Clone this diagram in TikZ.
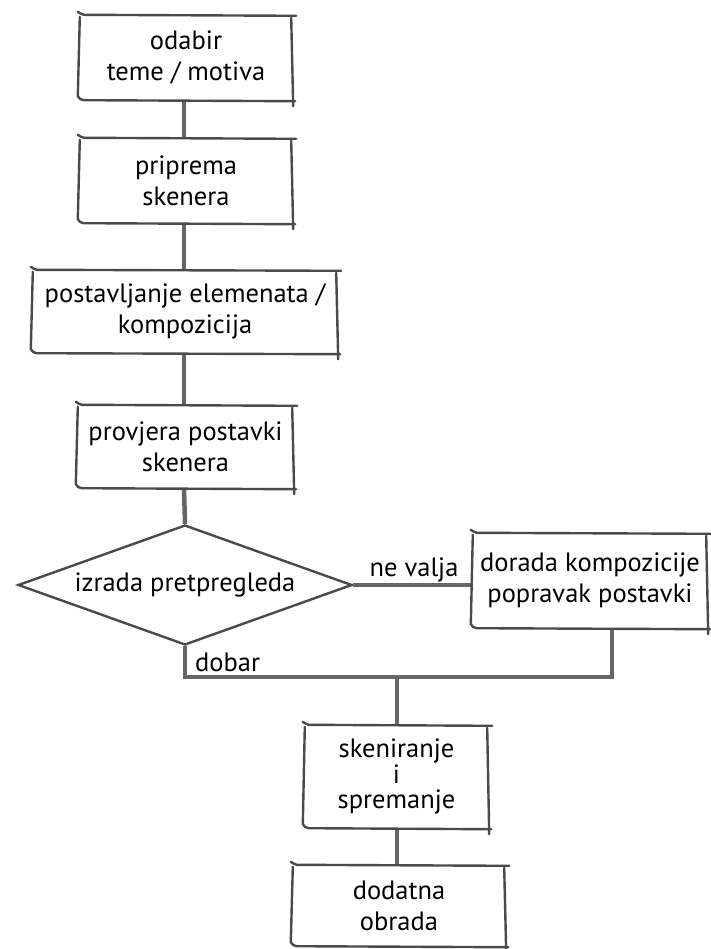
\documentclass[tikz,border=0pt]{standalone}
\usepackage{fontspec}
\setmainfont{PT Sans}
\usetikzlibrary{shapes.geometric}
\definecolor{boxcol}{HTML}{4A4A4A}
\definecolor{concol}{HTML}{666666}
\tikzset{
  stepbox/.style={draw=none, fill=white, align=center, inner sep=0pt,
    font=\fontsize{26.5}{31}\selectfont},
  boxline/.style={draw=boxcol, line width=2.4pt, line cap=round, line join=round},
  conn/.style={draw=concol, line width=4.5pt},
  lbl/.style={font=\fontsize{26.5}{31}\selectfont, inner sep=0pt},
}
\newcommand\skbox[1]{%
  \draw[boxline]
    ([shift={(-2,-3)}]#1.north west) to[out=-20,in=180] ([shift={(4,0)}]#1.north west)
    -- ([shift={(4,1)}]#1.north east);
  \draw[boxline]
    ([shift={(0,2)}]#1.north west) -- ([shift={(-2,-4)}]#1.south west)
    to[out=-60,in=180] ([shift={(4,0)}]#1.south west) -- ([shift={(3,1)}]#1.south east);
  \draw[boxline]
    ([shift={(-1,3)}]#1.north east) -- ([shift={(1,6)}]#1.south east);
}
\begin{document}
\begin{tikzpicture}[x=1pt,y=-1pt]
\fill[white] (0,0) rectangle (710,949);
\useasboundingbox (0,0) rectangle (710,949);

\node[stepbox, minimum width=212pt, minimum height=85pt] (b1) at (186,57.5) {odabir\\teme / motiva};
\node[stepbox, minimum width=212pt, minimum height=85pt] (b2) at (186,180.5) {priprema\\skenera};
\node[stepbox, minimum width=304pt, minimum height=83pt] (b3) at (185,311.5) {postavljanje elemenata /\\kompozicija};
\node[stepbox, minimum width=215pt, minimum height=83pt] (b4) at (185.5,446.5) {provjera postavki\\skenera};
\node[diamond, draw=boxcol, line width=2.4pt, fill=white, aspect=2.78, inner sep=0pt,
      minimum width=334pt, minimum height=120pt, font=\fontsize{26.5}{31}\selectfont] (d) at (185,585) {izrada pretpregleda};
\node[stepbox, minimum width=234pt, minimum height=95pt] (b5) at (590,580.5) {dorada kompozicije\\popravak postavki};
\node[stepbox, minimum width=183pt, minimum height=103pt, font=\fontsize{26.5}{25.5}\selectfont] (b6) at (396.5,776.5) {skeniranje\\i\\spremanje};
\node[stepbox, minimum width=212pt, minimum height=81pt] (b7) at (399,905.5) {dodatna\\obrada};

\coordinate (jl) at (185,677);
\coordinate (jr) at (612,677);
\coordinate (jm) at (397,677);

\draw[conn] (b1.south -| 184,0) -- (b2.north -| 184,0);
\draw[conn] (b2.south -| 184,0) -- (b3.north -| 184,0);
\draw[conn] (b3.south -| 184,0) -- (b4.north -| 184,0);
\draw[conn] (b4.south -| 184,0) -- (d.north);
\draw[conn] (d.east) -- (d.east -| b5.west);
\draw[conn] (d.south) -- (jl) -- (jr) -- (jr |- b5.south);
\draw[conn] (jm) -- (jm |- b6.north);
\draw[conn] (b6.south -| 397,0) -- (b7.north -| 397,0);

\foreach \n in {b1,b2,b3,b4,b5,b6,b7} {\skbox{\n}}

\node[lbl, anchor=south] (nv) at (414,582) {ne valja};
\node[lbl, anchor=west] (db) at (195,662) {dobar};
\end{tikzpicture}
\end{document}
